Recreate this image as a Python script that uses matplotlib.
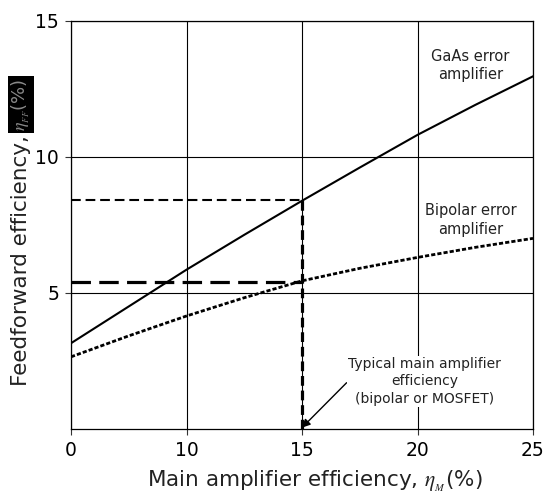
import matplotlib
matplotlib.use("Agg")
import matplotlib.pyplot as plt

plt.rcParams['font.family'] = ['DejaVu Sans']
plt.rcParams['mathtext.fontset'] = 'stix'
plt.rcParams['lines.scale_dashes'] = False

# x positions of the curve readings (first tick is printed as "0")
main_eff = [5, 7.5, 10, 12.5, 15, 17.5, 20, 22.5, 25]
gaas_ff = [3.15, 4.5, 5.85, 7.13, 8.38, 9.6, 10.8, 11.9, 12.95]
bipolar_ff = [2.65, 3.42, 4.15, 4.82, 5.44, 5.9, 6.3, 6.67, 7.0]

x_ticks = [5, 10, 15, 20, 25]
x_tick_labels = ['0', '10', '15', '20', '25']
y_ticks = [5, 10, 15]

typical_main = 15
gaas_at_typical = 8.4
bipolar_at_typical = 5.4

fig = plt.figure(figsize=(5.47, 4.93), dpi=100)
ax = fig.add_axes([71/547, 64/493, 462/547, 408.5/493])

ax.set_xlim(5, 25)
ax.set_ylim(0, 15)
ax.set_xticks(x_ticks)
ax.set_xticklabels(x_tick_labels)
ax.set_yticks(y_ticks)
ax.tick_params(direction='out', length=4.5, width=0.8, labelsize=13.5, color='#333333', pad=4)
ax.grid(True, color='black', lw=0.8)
ax.set_axisbelow(True)
for s in ax.spines.values():
    s.set_linewidth(0.9)

ax.plot(main_eff, gaas_ff, color='black', lw=1.5, zorder=3)
ax.plot(main_eff, bipolar_ff, color='black', lw=2.0, dashes=(3, 1.5), zorder=3)

# reading lines at the typical main amplifier efficiency
ax.plot([5, typical_main], [gaas_at_typical, gaas_at_typical], color='black', lw=1.5, dashes=(7, 3.5), zorder=2)
ax.plot([5, typical_main], [bipolar_at_typical, bipolar_at_typical], color='black', lw=2.3, dashes=(14, 6), zorder=2)
ax.plot([typical_main, typical_main], [0, gaas_at_typical], color='black', lw=2.3, dashes=(7, 3.5), zorder=2)

ax.text(22.3, 13.35, 'GaAs error\namplifier', ha='center', va='center', fontsize=10.5,
        linespacing=1.3, color='#222222')
ax.text(22.3, 7.68, 'Bipolar error\namplifier', ha='center', va='center', fontsize=10.5,
        linespacing=1.3, color='#222222')

ax.annotate('Typical main amplifier\nefficiency\n(bipolar or MOSFET)',
            xy=(typical_main, 0.05), xytext=(20.3, 1.75),
            ha='center', va='center', fontsize=10, linespacing=1.3, color='#222222',
            bbox=dict(facecolor='white', edgecolor='none', pad=1),
            arrowprops=dict(arrowstyle='-|>', color='black', lw=1, mutation_scale=12,
                            shrinkA=0, shrinkB=0, relpos=(0.0, 0.5)),
            zorder=4)

ax.set_xlabel('Main amplifier efficiency, ' + r'$\eta_{_M}$(%)', fontsize=15.5, labelpad=6,
              color='#222222')
ax.xaxis.set_label_coords(0.528, -0.098)

# y label, the symbol part sits in a black box
fig.text(21/547, 1 - 386/493, 'Feedforward efficiency, ', rotation=90,
         ha='center', va='bottom', fontsize=15.5, color='#222222')
fig.text(21/547, 1 - 131/493, r'$\eta_{_{FF}}$(%)', rotation=90, color='#8a8a8a',
         ha='center', va='bottom', fontsize=13,
         bbox=dict(facecolor='black', edgecolor='none', pad=1.5))

fig.savefig('out.png', dpi=100)
